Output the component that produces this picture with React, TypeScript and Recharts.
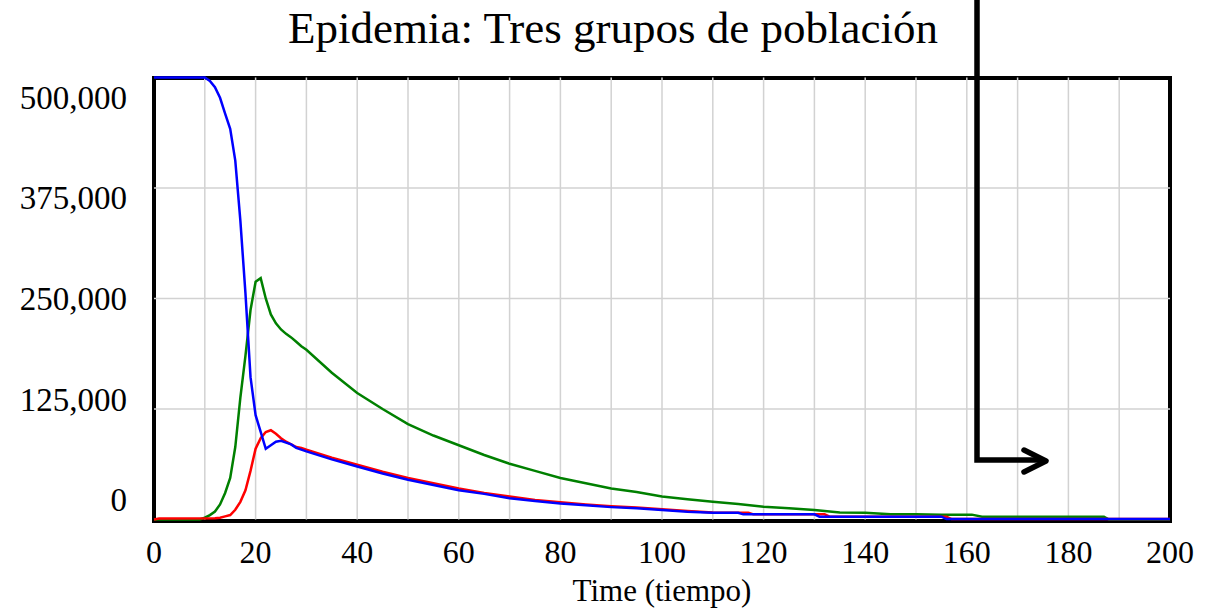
import { LineChart, Line, XAxis, YAxis, CartesianGrid } from "recharts";

// [time, people] pairs for the three population groups
const susceptibles: [number, number][] = [
  [0, 500000], [10, 500000], [11, 496000], [12, 489000], [13, 477000], [14, 459000],
  [15, 442000], [16, 406000], [17, 338000], [18, 256000], [19, 161000], [20, 118000],
  [21, 99000], [22, 80000], [23, 84000], [24, 88000], [25, 89000], [26, 87000],
  [27, 85000], [28, 81000], [29, 79000], [30, 77000], [35, 68000], [40, 60000],
  [45, 52000], [50, 45000], [55, 39000], [60, 33000], [65, 29000], [70, 24000],
  [75, 21000], [80, 18000], [85, 16000], [90, 14000], [95, 12600], [100, 10700],
  [105, 8800], [110, 7700], [115, 7700], [116, 5800], [130, 5800], [131, 3200],
  [155, 3200], [156, 500], [200, 500],
];

const enfermos: [number, number][] = [
  [0, 0], [1, 1000], [12, 1300], [13, 2000], [14, 3500], [15, 5000], [16, 11000],
  [17, 20000], [18, 33000], [19, 55000], [20, 80000], [21, 92000], [22, 99000],
  [23, 101000], [24, 97000], [25, 92000], [26, 88000], [27, 85000], [28, 82000],
  [29, 81000], [30, 79000], [35, 70000], [40, 62000], [45, 54000], [50, 47000],
  [55, 41000], [60, 35000], [65, 30000], [70, 26000], [75, 22000], [80, 19500],
  [85, 17000], [90, 15000], [95, 13500], [100, 11500], [105, 9500], [110, 8000],
  [117, 7700], [118, 5800], [132, 5800], [133, 3200], [156, 3200], [157, 500],
  [200, 500],
];

const recuperados: [number, number][] = [
  [0, 0], [9, 0], [10, 2000], [11, 5000], [12, 9000], [13, 17000], [14, 30000],
  [15, 47000], [16, 82000], [17, 138000], [18, 185000], [19, 237000], [20, 269000],
  [21, 273000], [22, 250000], [23, 232000], [24, 222000], [25, 215000], [26, 210000],
  [27, 206000], [28, 201000], [29, 196000], [30, 192000], [35, 166000], [40, 143000],
  [45, 125000], [50, 108000], [55, 95000], [60, 84000], [65, 73000], [70, 63000],
  [75, 55000], [80, 47000], [85, 41000], [90, 35000], [95, 31000], [100, 26000],
  [105, 23000], [110, 20000], [115, 17500], [120, 14500], [125, 12600], [130, 10700],
  [135, 8000], [140, 7700], [145, 5900], [150, 5900], [155, 5500], [161, 5500],
  [163, 3200], [187, 3200], [188, 0], [200, 0],
];

const timeTicks = [0, 10, 20, 30, 40, 50, 60, 70, 80, 90, 100, 110, 120, 130, 140, 150, 160, 170, 180, 190, 200];
const valueTicks = [0, 125000, 250000, 375000, 500000];

const W = 1208;
const H = 610;
const PLOT_LEFT = 154;
const PLOT_RIGHT = 1170;
const PLOT_TOP = 77.5;
const PLOT_BOTTOM = 519.5;
const Y_AXIS_W = 120;
const X_AXIS_H = 40;
const SERIF = '"Liberation Serif", "Times New Roman", serif';

const toPoints = (rows: [number, number][]) => rows.map(([t, v]) => ({ t, v }));

function YTick({ x, y, payload }: any) {
  // labels are pulled slightly toward the middle of the axis
  const mid = (PLOT_TOP + PLOT_BOTTOM) / 2;
  const ly = mid + (y - mid) * 0.91;
  return (
    <text x={x} y={ly} dy="0.35em" textAnchor="end" fontFamily={SERIF} fontSize={33} fill="#000">
      {Number(payload.value).toLocaleString("en-US")}
    </text>
  );
}

function XTick({ x, y, payload }: any) {
  if (payload.value % 20 !== 0) return <g />;
  return (
    <text x={x} y={y + 43.5} textAnchor="middle" fontFamily={SERIF} fontSize={32} fill="#000">
      {payload.value}
    </text>
  );
}

export default function App() {
  return (
    <div style={{ position: "absolute", left: 0, top: 0, width: W, height: H, background: "#fff" }}>
      {/* frame sits underneath the plotted lines */}
      <svg width={W} height={H} style={{ position: "absolute", left: 0, top: 0 }}>
        <rect
          x={PLOT_LEFT}
          y={PLOT_TOP + 0.5}
          width={PLOT_RIGHT - PLOT_LEFT}
          height={PLOT_BOTTOM + 1.5 - PLOT_TOP - 0.5}
          fill="none"
          stroke="#000"
          strokeWidth={4}
        />
      </svg>
      <LineChart
        width={W}
        height={H}
        margin={{
          top: PLOT_TOP,
          left: PLOT_LEFT - Y_AXIS_W,
          right: W - PLOT_RIGHT,
          bottom: H - PLOT_BOTTOM - X_AXIS_H,
        }}
      >
        <CartesianGrid
          stroke="#d2d2d2"
          strokeWidth={1.5}
          horizontalValues={valueTicks.slice(1, -1)}
          verticalValues={timeTicks.slice(1, -1)}
        />
        <XAxis
          dataKey="t"
          type="number"
          domain={[0, 200]}
          ticks={timeTicks}
          interval={0}
          height={X_AXIS_H}
          tickSize={0}
          tickMargin={0}
          tickLine={false}
          axisLine={false}
          tick={<XTick />}
          allowDuplicatedCategory={false}
        />
        <YAxis
          type="number"
          domain={[0, 500000]}
          ticks={valueTicks}
          interval={0}
          width={Y_AXIS_W}
          tickSize={0}
          tickMargin={27}
          tickLine={false}
          axisLine={false}
          tick={<YTick />}
        />
        <Line
          data={toPoints(recuperados)}
          dataKey="v"
          type="linear"
          stroke="#008000"
          strokeWidth={2.5}
          dot={false}
          activeDot={false}
          isAnimationActive={false}
        />
        <Line
          data={toPoints(enfermos)}
          dataKey="v"
          type="linear"
          stroke="#ff0000"
          strokeWidth={2.5}
          dot={false}
          activeDot={false}
          isAnimationActive={false}
        />
        <Line
          data={toPoints(susceptibles)}
          dataKey="v"
          type="linear"
          stroke="#0000ff"
          strokeWidth={2.5}
          dot={false}
          activeDot={false}
          isAnimationActive={false}
        />
      </LineChart>

      <svg
        width={W}
        height={H}
        style={{ position: "absolute", left: 0, top: 0, pointerEvents: "none" }}
      >
        <text x={613} y={43} textAnchor="middle" fontFamily={SERIF} fontSize={45} fill="#000">
          Epidemia: Tres grupos de población
        </text>
        <text
          x={(PLOT_LEFT + PLOT_RIGHT) / 2}
          y={601}
          textAnchor="middle"
          fontFamily={SERIF}
          fontSize={31}
          fill="#000"
        >
          Time (tiempo)
        </text>
        {/* hand-drawn pointer arrow */}
        <path d="M977 0 V460 H1044" fill="none" stroke="#000" strokeWidth={5.5} strokeLinejoin="miter" />
        <path
          d="M1024 450 L1046 461 L1024 472"
          fill="none"
          stroke="#000"
          strokeWidth={5.5}
          strokeLinecap="round"
          strokeLinejoin="round"
        />
      </svg>
    </div>
  );
}
